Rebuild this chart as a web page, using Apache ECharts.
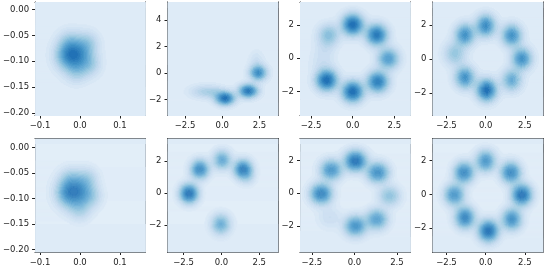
<!DOCTYPE html>
<html><head><meta charset="utf-8">
<script src="https://cdn.jsdelivr.net/npm/echarts@6/dist/echarts.min.js"></script>
<style>html,body{margin:0;padding:0;background:#fff}#c{width:545px;height:269px}</style>
</head><body><div id="c"></div>
<script>
// ---- Data: density modes per panel (centre x, centre y, strength, spread x, spread y)
const p1X = [-0.013, 0.020, 0.025, -0.036, -0.008, -0.028];
const p1Y = [-0.087, -0.064, -0.106, -0.088, -0.120, -0.062];
const p1W = [1.0, 0.20, 0.20, 0.20, 0.16, 0.16];
const p1SX = [0.025, 0.017, 0.017, 0.017, 0.017, 0.017];
const p1SY = [0.020, 0.014, 0.014, 0.014, 0.014, 0.014];

const p2X = [0.20, 1.75, 2.42, -1.25, -0.45, 2.30];
const p2Y = [-1.88, -1.32, 0.05, -1.38, -1.45, 0.90];
const p2W = [1.0, 0.95, 0.75, 0.18, 0.14, 0.08];
const p2SX = [0.40, 0.40, 0.36, 0.60, 0.45, 0.32];
const p2SY = [0.32, 0.32, 0.36, 0.32, 0.32, 0.50];

const p3X = [0.00, 1.44, 2.14, 1.50, 0.00, -1.56, -1.44, -1.80, -1.65];
const p3Y = [2.06, 1.44, 0.00, -1.40, -2.00, -1.30, 1.44, -0.20, 0.70];
const p3W = [1.0, 0.90, 0.60, 0.85, 1.0, 1.0, 0.35, 0.08, 0.08];
const p3S = [0.40, 0.40, 0.40, 0.40, 0.40, 0.40, 0.40, 0.45, 0.40];

const p4X = [0.00, 1.66, 2.30, 1.66, 0.06, -1.32, -1.32, -1.96];
const p4Y = [2.00, 1.42, 0.06, -1.20, -1.80, -1.05, 1.46, 0.35];
const p4W = [0.75, 0.70, 0.70, 0.50, 1.0, 0.70, 0.70, 0.30];
const p4S = [0.40, 0.40, 0.40, 0.40, 0.40, 0.40, 0.40, 0.44];

const p5X = [-0.013, 0.018, 0.028, -0.035, 0.000, -0.025];
const p5Y = [-0.086, -0.060, -0.095, -0.090, -0.122, -0.060];
const p5W = [1.0, 0.20, 0.20, 0.18, 0.18, 0.16];
const p5SX = [0.025, 0.017, 0.017, 0.017, 0.017, 0.017];
const p5SY = [0.020, 0.014, 0.014, 0.014, 0.014, 0.014];

const p6X = [-2.14, -1.43, 0.04, 1.43, -0.04, 1.75];
const p6Y = [0.00, 1.52, 2.10, 1.52, -1.92, 1.00];
const p6W = [1.0, 0.80, 0.55, 0.90, 0.50, 0.12];
const p6S = [0.38, 0.38, 0.38, 0.38, 0.40, 0.32];

const p7X = [0.06, 1.37, 2.06, 1.31, 0.06, -1.96, -1.37, -1.45];
const p7Y = [2.00, 1.29, -0.14, -1.57, -1.98, 0.00, 1.45, -1.45];
const p7W = [1.0, 0.75, 0.35, 0.60, 0.70, 0.85, 0.70, 0.10];
const p7S = [0.40, 0.40, 0.40, 0.40, 0.40, 0.40, 0.40, 0.44];

const p8X = [0.00, 1.60, 2.30, 1.66, 0.17, -1.32, -2.00, -1.38];
const p8Y = [2.00, 1.32, 0.00, -1.44, -2.13, -1.34, 0.00, 1.32];
const p8W = [0.70, 0.80, 1.0, 0.75, 1.0, 0.85, 0.70, 0.80];
const p8S = [0.40, 0.40, 0.40, 0.40, 0.40, 0.40, 0.40, 0.40];

// axis extents and tick labels
const xRanges = [[-0.1125, 0.164], [-3.68, 3.75], [-3.16, 3.47], [-3.39, 3.66],
                 [-0.1125, 0.164], [-3.56, 3.74], [-3.20, 3.30], [-3.39, 3.66]];
const yRanges = [[-0.205, 0.0145], [-3.2, 5.37], [-3.46, 3.40], [-3.31, 3.37],
                 [-0.205, 0.0175], [-3.69, 3.42], [-3.60, 3.35], [-3.41, 3.31]];
const smallXTicks = [-0.1, 0.0, 0.1];
const smallXLabels = ['−0.1', '0.0', '0.1'];
const smallYTicks = [0.0, -0.05, -0.10, -0.15, -0.20];
const smallYLabels = ['0.00', '−0.05', '−0.10', '−0.15', '−0.20'];
const bigXTicks = [-2.5, 0.0, 2.5];
const bigXLabels = ['−2.5', '0.0', '2.5'];
const bigYTicks = [-2, 0, 2];
const bigYLabels = ['−2', '0', '2'];
const tallYTicks = [-2, 0, 2, 4];
const tallYLabels = ['−2', '0', '2', '4'];

// ---- build panels
const panels = [
  {x: p1X, y: p1Y, w: p1W, sx: p1SX, sy: p1SY},
  {x: p2X, y: p2Y, w: p2W, sx: p2SX, sy: p2SY},
  {x: p3X, y: p3Y, w: p3W, sx: p3S, sy: p3S},
  {x: p4X, y: p4Y, w: p4W, sx: p4S, sy: p4S},
  {x: p5X, y: p5Y, w: p5W, sx: p5SX, sy: p5SY},
  {x: p6X, y: p6Y, w: p6W, sx: p6S, sy: p6S},
  {x: p7X, y: p7Y, w: p7W, sx: p7S, sy: p7S},
  {x: p8X, y: p8Y, w: p8W, sx: p8S, sy: p8S}
];
const tickSets = [
  [smallXTicks, smallXLabels, smallYTicks, smallYLabels],
  [bigXTicks, bigXLabels, tallYTicks, tallYLabels],
  [bigXTicks, bigXLabels, bigYTicks, bigYLabels],
  [bigXTicks, bigXLabels, bigYTicks, bigYLabels],
  [smallXTicks, smallXLabels, smallYTicks, smallYLabels],
  [bigXTicks, bigXLabels, bigYTicks, bigYLabels],
  [bigXTicks, bigXLabels, bigYTicks, bigYLabels],
  [bigXTicks, bigXLabels, bigYTicks, bigYLabels]
];

const NLEV = 20;
const GAMMA = 0.7;
const blues = ['#f7fbff','#deebf7','#c6dbef','#9ecae1','#6baed6','#4292c6','#2171b5','#08519c','#08306b'];
function hex2rgb(h){return [parseInt(h.slice(1,3),16),parseInt(h.slice(3,5),16),parseInt(h.slice(5,7),16)];}
function bluesAt(t){
  const n = blues.length - 1; const f = Math.max(0, Math.min(1, t)) * n;
  const i = Math.min(n - 1, Math.floor(f)); const u = f - i;
  const a = hex2rgb(blues[i]), b = hex2rgb(blues[i+1]);
  return 'rgb(' + a.map((v,k)=>Math.round(v + (b[k]-v)*u)).join(',') + ')';
}
const palette = [];
for (let l = 0; l < NLEV; l++) palette.push(bluesAt(0.125 + 0.62 * l / (NLEV - 1)));

function buildCells(p, xr, yr, nx, ny) {
  const dx = (xr[1]-xr[0])/nx, dy = (yr[1]-yr[0])/ny;
  const grid = []; let mx = 0;
  for (let j = 0; j < ny; j++) {
    const yc = yr[0] + (j+0.5)*dy; const row = [];
    for (let i = 0; i < nx; i++) {
      const xc = xr[0] + (i+0.5)*dx; let d = 0;
      for (let k = 0; k < p.x.length; k++) {
        const ux = (xc - p.x[k]) / p.sx[k], uy = (yc - p.y[k]) / p.sy[k];
        d += p.w[k] * Math.exp(-0.5*(ux*ux + uy*uy));
      }
      row.push(d); if (d > mx) mx = d;
    }
    grid.push(row);
  }
  const out = [];
  for (let j = 0; j < ny; j++) {
    const y0 = yr[0] + j*dy, y1 = y0 + dy;
    let start = 0, lev = -1;
    for (let i = 0; i <= nx; i++) {
      let L = -2;
      if (i < nx) L = Math.min(NLEV-1, Math.floor(Math.pow(grid[j][i]/mx, GAMMA) * NLEV));
      if (L !== lev) {
        if (lev >= 0) out.push([xr[0] + start*dx, xr[0] + i*dx, y0, y1, lev]);
        start = i; lev = L;
      }
    }
  }
  return out;
}

const lefts = [35, 167.5, 300, 432.5];
const tops = [2, 138.5];
const W = 110.5, Hs = [113.5, 113.5];
const font = {fontFamily: 'DejaVu Sans', fontSize: 8.5, color: '#222'};
const grids = [], xAxes = [], yAxes = [], series = [];
for (let k = 0; k < 8; k++) {
  const r = Math.floor(k/4), c = k % 4;
  grids.push({left: lefts[c], top: tops[r], width: W, height: Hs[r], containLabel: false});
  const [xt, xl, yt, yl] = tickSets[k];
  const fmt = (ticks, labels) => (v) => { let bi = 0; for (let i = 0; i < ticks.length; i++) if (Math.abs(ticks[i]-v) < Math.abs(ticks[bi]-v)) bi = i; return labels[bi]; };
  const line = {show: true, onZero: false, lineStyle: {color: '#222', width: 1}};
  xAxes.push({type: 'value', gridIndex: k, min: xRanges[k][0], max: xRanges[k][1], position: 'bottom',
    axisLine: line, splitLine: {show: false},
    axisTick: {show: true, length: 3, customValues: xt, lineStyle: {color: '#222'}},
    axisLabel: Object.assign({show: true, margin: 6, customValues: xt, formatter: fmt(xt, xl)}, font)});
  yAxes.push({type: 'value', gridIndex: k, min: yRanges[k][0], max: yRanges[k][1], position: 'left',
    axisLine: line, splitLine: {show: false},
    axisTick: {show: true, length: 3, customValues: yt, lineStyle: {color: '#222'}},
    axisLabel: Object.assign({show: true, margin: 6, customValues: yt, formatter: fmt(yt, yl)}, font)});
}
for (let k = 0; k < 8; k++) {
  const line = {show: true, onZero: false, lineStyle: {color: '#222', width: 1}};
  xAxes.push({type: 'value', gridIndex: k, min: xRanges[k][0], max: xRanges[k][1], position: 'top',
    axisLine: line, splitLine: {show: false}, axisTick: {show: false}, axisLabel: {show: false}});
  yAxes.push({type: 'value', gridIndex: k, min: yRanges[k][0], max: yRanges[k][1], position: 'right',
    axisLine: line, splitLine: {show: false}, axisTick: {show: false}, axisLabel: {show: false}});
}
for (let k = 0; k < 8; k++) {
  const cells = buildCells(panels[k], xRanges[k], yRanges[k], 111, 114);
  series.push({
    type: 'custom', xAxisIndex: k, yAxisIndex: k, data: cells, silent: true, z: 1,
    progressive: 0, progressiveThreshold: 1e9,
    encode: {x: [0, 1], y: [2, 3]},
    renderItem: function (params, api) {
      const a = api.coord([api.value(0), api.value(3)]);
      const b = api.coord([api.value(1), api.value(2)]);
      return {type: 'rect', shape: {x: a[0], y: a[1], width: b[0]-a[0] + 0.4, height: b[1]-a[1] + 0.4},
              style: {fill: palette[api.value(4)]}};
    }
  });
}
const chart = echarts.init(document.getElementById('c'), null, {renderer: 'canvas'});
chart.setOption({animation: false, backgroundColor: '#fff', grid: grids, xAxis: xAxes, yAxis: yAxes, series: series});
</script></body></html>
